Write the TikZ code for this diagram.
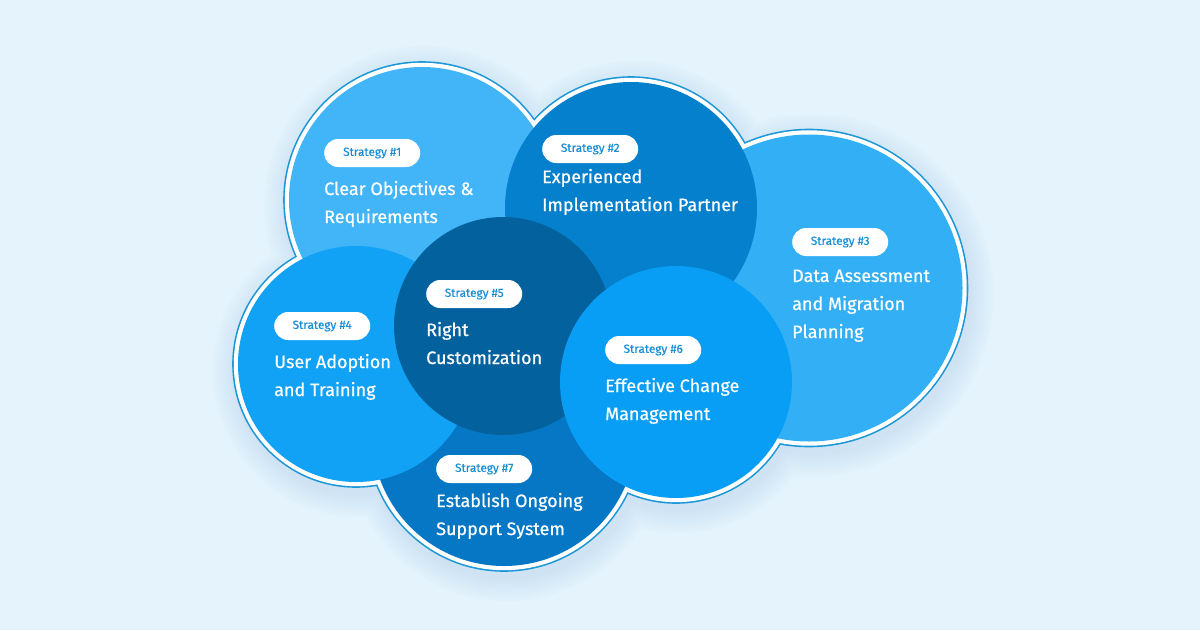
\documentclass[tikz,border=0pt]{standalone}
\usepackage{fontspec}
\setmainfont{Fira Sans}
\newfontfamily\titlefont{Fira Sans}[FakeBold=0.6]
\newfontfamily\pillfont{Fira Sans}[FakeBold=0.4]
\definecolor{bgc}{HTML}{E4F3FC}
\definecolor{ringc}{HTML}{1B97D8}
\definecolor{shadc}{HTML}{6FA9D0}
\definecolor{cA}{HTML}{42B4F8}
\definecolor{cB}{HTML}{0580CC}
\definecolor{cC}{HTML}{33B0F5}
\definecolor{cD}{HTML}{12A2F5}
\definecolor{cE}{HTML}{03629E}
\definecolor{cF}{HTML}{089EF5}
\definecolor{cG}{HTML}{0577C4}
\definecolor{pilltext}{HTML}{1A8FD6}
\tikzset{
  pill/.style={fill=white, rounded corners=14pt, minimum width=96pt, minimum height=28pt, inner sep=0pt, text=pilltext, font=\pillfont\fontsize{11.8}{13}\selectfont},
  title/.style={anchor=base west, inner sep=0pt, text=white, font=\titlefont\fontsize{18}{20}\selectfont},
}
\newcommand{\allcircles}[1]{%
  (422,200) circle (133+#1)
  (809,288) circle (153.5+#1)
  (631,208) circle (126+#1)
  (504,434) circle (132+#1)
  (356,364) circle (118+#1)
  (676,382) circle (116+#1)}
\begin{document}
\begin{tikzpicture}[x=1pt,y=-1pt]
\useasboundingbox (0,0) rectangle (1200,630);
\fill[bgc] (0,0) rectangle (1200,630);
% soft shadow
\foreach \k in {1,...,8}{
  \fill[shadc, fill opacity=0.018, shift={(3,7)}] \allcircles{4+3*\k};
}
% outline ring
\fill[ringc] \allcircles{5.8};
\fill[white] \allcircles{4.2};
% circles
\fill[cA] (422,200) circle (133);
\fill[cC] (809,288) circle (153.5);
\fill[cB] (631,208) circle (126);
\fill[cG] (504,434) circle (132);
\fill[cD] (356,364) circle (118);
\fill[cE] (503,326) circle (109);
\fill[cF] (676,382) circle (116);
% texts
\node[pill, anchor=west] (p1) at (324,153) {Strategy \#1};
\node[title] (t1a) at (324,195) {Clear Objectives \&};
\node[title] (t1b) at (324,223) {Requirements};
\node[pill, anchor=west] (p2) at (542,149) {Strategy \#2};
\node[title] (t2a) at (542,183) {Experienced};
\node[title] (t2b) at (542,211) {Implementation Partner};
\node[pill, anchor=west] (p3) at (792,242) {Strategy \#3};
\node[title] (t3a) at (792,282) {Data Assessment};
\node[title] (t3b) at (792,310) {and Migration};
\node[title] (t3c) at (792,338) {Planning};
\node[pill, anchor=west] (p4) at (274,326) {Strategy \#4};
\node[title] (t4a) at (274,368) {User Adoption};
\node[title] (t4b) at (274,396) {and Training};
\node[pill, anchor=west] (p5) at (426,294) {Strategy \#5};
\node[title] (t5a) at (426,336) {Right};
\node[title] (t5b) at (426,364) {Customization};
\node[pill, anchor=west] (p6) at (605,350) {Strategy \#6};
\node[title] (t6a) at (605,392) {Effective Change};
\node[title] (t6b) at (605,420) {Management};
\node[pill, anchor=west] (p7) at (436,469) {Strategy \#7};
\node[title] (t7a) at (436,507) {Establish Ongoing};
\node[title] (t7b) at (436,535) {Support System};
\end{tikzpicture}
\end{document}
